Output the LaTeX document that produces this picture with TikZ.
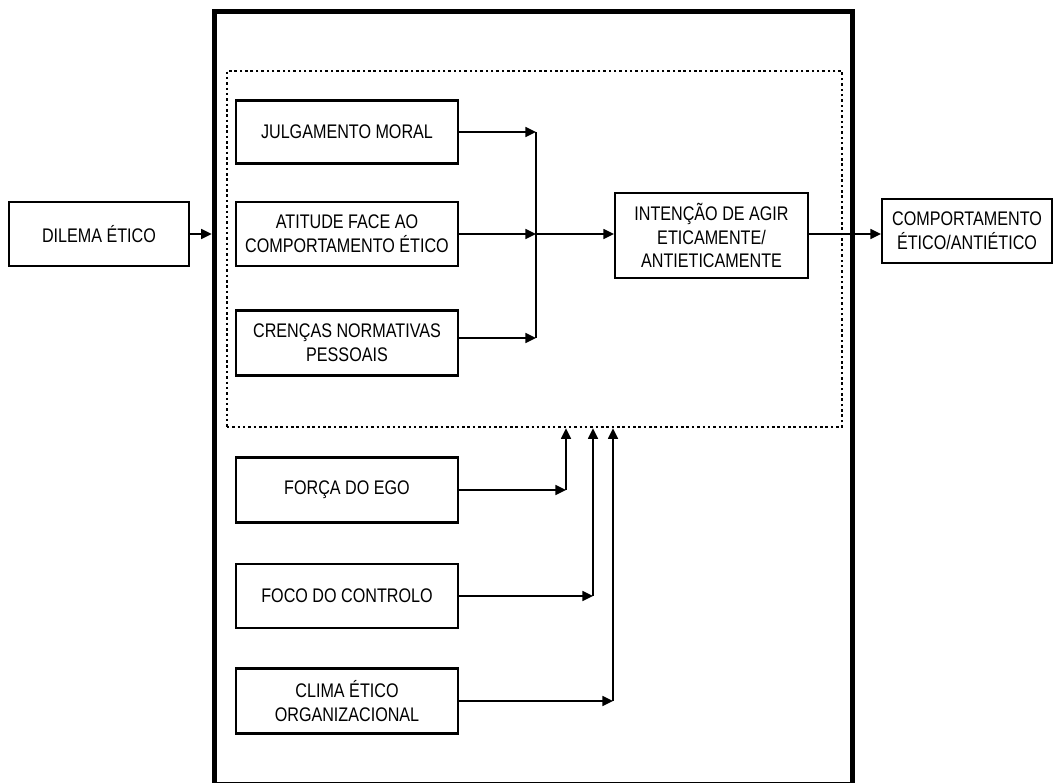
\documentclass[tikz,border=0pt]{standalone}
\usepackage{fontspec}
\setmainfont{Liberation Sans}[FakeStretch=0.82]
\usetikzlibrary{arrows.meta}
\definecolor{black}{RGB}{0,0,0}
\definecolor{white}{RGB}{255,255,255}

\begin{document}
\begin{tikzpicture}[x=0.025cm,y=-0.025cm,
	font=\fontsize{14pt}{17pt}\selectfont,
	box/.style={rectangle,draw=black,fill=white,line width=1.5pt,align=center,inner sep=0pt,minimum height=1.6cm},
	leftbox/.style={box,minimum width=5.55cm},
	arrow/.style={-{Triangle[length=7.5pt,width=7pt]},line width=1.3pt}]
	\useasboundingbox (0,0) rectangle (1053,783);
	\clip (0,0) rectangle (1053,783);

	% frames
	\node[rectangle,draw=black,line width=3.8pt,minimum width=15.95cm,minimum height=19.325cm] (outer) at (533.5,398) {};
	\node[rectangle,draw=black,line width=1.8pt,dash pattern=on 1.8pt off 2pt,minimum width=15.375cm,minimum height=8.9cm] (inner) at (534.5,249) {};

	% boxes
	\node[box,minimum width=4.5cm] (dilema) at (99,234) {DILEMA ÉTICO};
	\node[leftbox,minimum height=1.575cm] (julg) at (347,132) {JULGAMENTO MORAL};
	\node[leftbox] (atit) at (347,234) {ATITUDE FACE AO\\COMPORTAMENTO ÉTICO};
	\node[leftbox,minimum height=1.625cm] (cren) at (347,343) {CRENÇAS NORMATIVAS\\PESSOAIS};
	\node[box,minimum width=4.825cm,minimum height=2.125cm] (intencao) at (711.5,235.5) {INTENÇÃO DE AGIR\\ETICAMENTE/\\ANTIETICAMENTE};
	\node[box,minimum width=4.25cm] (comport) at (967,231) {COMPORTAMENTO\\ÉTICO/ANTIÉTICO};
	\node[leftbox,minimum height=1.625cm] (forca) at (347,490) {FORÇA DO EGO};
	\node[leftbox] (foco) at (347,596) {FOCO DO CONTROLO};
	\node[leftbox,minimum height=1.625cm] (clima) at (347,701) {CLIMA ÉTICO\\ORGANIZACIONAL};

	% junctions
	\coordinate (jA) at (536,132);
	\coordinate (jB) at (536,234);
	\coordinate (jC) at (536,338);
	\coordinate (fA) at (566,490);
	\coordinate (fB) at (593,596);
	\coordinate (fC) at (613,701);

	% connectors
	\draw[arrow] (dilema.east) -- (outer.west |- dilema.east);
	\draw[arrow] (julg.east) -- (jA);
	\draw[arrow] (atit.east) -- (jB);
	\draw[arrow] (cren.east |- jC) -- (jC);
	\draw[line width=1.3pt] (jA) -- (jC);
	\draw[arrow] (jB) -- (intencao.west |- jB);
	\draw[arrow] (intencao.east |- jB) -- (comport.west |- jB);
	\foreach \src/\pt in {forca/fA,foco/fB,clima/fC}{
		\draw[arrow] (\src.east) -- (\pt);
		\draw[arrow] (\pt) -- (\pt |- inner.south);
	}
\end{tikzpicture}
\end{document}
